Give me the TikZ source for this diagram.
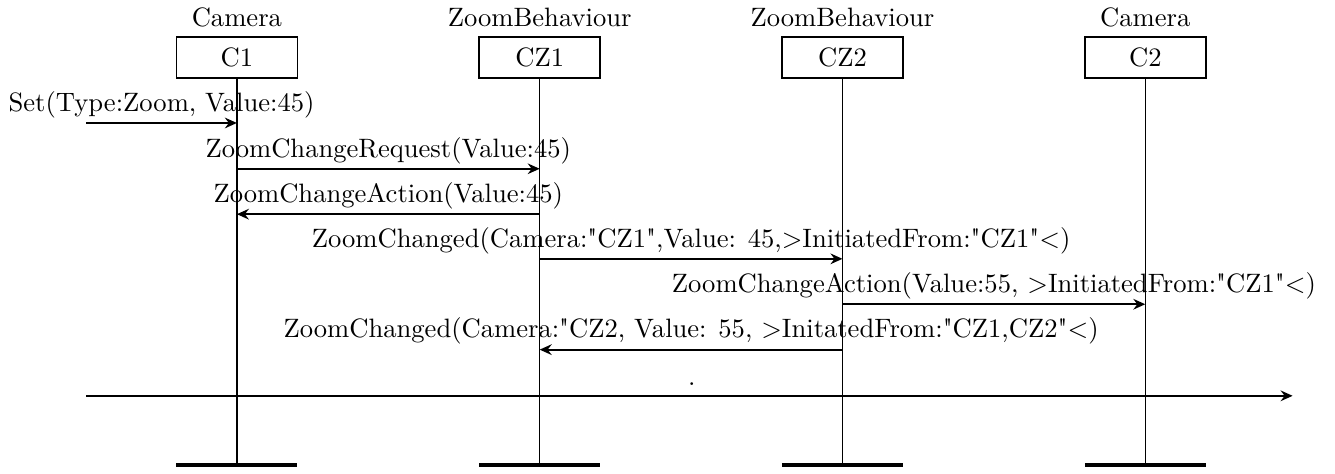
\documentclass[tikz,border=0pt]{standalone}
\usepackage{tikz}
\usetikzlibrary{positioning, arrows.meta, calc}

\newcommand{\qq}{\textquotedbl}

\begin{document}
\begin{tikzpicture}[
    every node/.style={font=\normalsize},
    obj/.style={draw, semithick, minimum width=1.6cm, minimum height=0.54cm, inner sep=0pt},
    cls/.style={inner sep=3.33pt},
    lifeline/.style={semithick},
    endbar/.style={line width=1.6pt},
    msg/.style={-{Stealth[length=4.5pt, width=4pt, inset=1.5pt]}, thick},
    msglbl/.style={anchor=south, inner sep=1.5pt},
  ]
  \useasboundingbox (0,0) rectangle (17.64,-6.26);

  % ---- Objects ----
  \node[obj] (C1) at (3.13,-0.76) {C1};
  \node[obj, right=2.38cm of C1] (CZ1) {CZ1};
  \node[obj, right=2.38cm of CZ1] (CZ2) {CZ2};
  \node[obj, right=2.38cm of CZ2] (C2) {C2};

  \node[cls, above=0pt of C1] (C1cls) {Camera};
  \node[cls, above=0pt of CZ1] (CZ1cls) {ZoomBehaviour};
  \node[cls, above=0pt of CZ2] (CZ2cls) {ZoomBehaviour};
  \node[cls, above=0pt of C2] (C2cls) {Camera};

  % ---- Lifelines ----
  \coordinate (bottom) at (0,-6.14);
  \coordinate (C1end) at (C1 |- bottom);
  \coordinate (CZ1end) at (CZ1 |- bottom);
  \coordinate (CZ2end) at (CZ2 |- bottom);
  \coordinate (C2end) at (C2 |- bottom);

  \draw[lifeline] (C1) -- (C1end);
  \draw[lifeline] (CZ1) -- (CZ1end);
  \draw[lifeline] (CZ2) -- (CZ2end);
  \draw[lifeline] (C2) -- (C2end);

  \draw[endbar] ([xshift=-0.8cm]C1end) -- ([xshift=0.8cm]C1end);
  \draw[endbar] ([xshift=-0.8cm]CZ1end) -- ([xshift=0.8cm]CZ1end);
  \draw[endbar] ([xshift=-0.8cm]CZ2end) -- ([xshift=0.8cm]CZ2end);
  \draw[endbar] ([xshift=-0.8cm]C2end) -- ([xshift=0.8cm]C2end);

  % ---- Messages ----
  \coordinate (m1) at (1.14,-1.625);
  \coordinate (m2) at (0,-2.23);
  \coordinate (m3) at (0,-2.83);
  \coordinate (m4) at (0,-3.42);
  \coordinate (m5) at (0,-4.02);
  \coordinate (m6) at (0,-4.62);

  \draw[msg] (m1) -- (C1 |- m1)
    node[msglbl, midway] {Set(Type:Zoom, Value:45)};
  \draw[msg] (C1 |- m2) -- (CZ1 |- m2)
    node[msglbl, midway] {ZoomChangeRequest(Value:45)};
  \draw[msg] (CZ1 |- m3) -- (C1 |- m3)
    node[msglbl, midway] {ZoomChangeAction(Value:45)};
  \draw[msg] (CZ1 |- m4) -- (CZ2 |- m4)
    node[msglbl, midway] {ZoomChanged(Camera:\qq CZ1\qq,Value: 45,$>$InitiatedFrom:\qq CZ1\qq$<$)};
  \draw[msg] (CZ2 |- m5) -- (C2 |- m5)
    node[msglbl, midway] {ZoomChangeAction(Value:55, $>$InitiatedFrom:\qq CZ1\qq$<$)};
  \draw[msg] (CZ2 |- m6) -- (CZ1 |- m6)
    node[msglbl, midway] {ZoomChanged(Camera:\qq CZ2, Value: 55, $>$InitatedFrom:\qq CZ1,CZ2\qq$<$)};

  % ---- Time axis ----
  \node[anchor=base, inner sep=0pt] (dot) at (9.14,-5.09) {.};
  \coordinate (tstart) at (1.14,-5.23);
  \coordinate (tend) at (17.08,-5.23);
  \draw[msg] (tstart) -- (tend);

\end{tikzpicture}
\end{document}
